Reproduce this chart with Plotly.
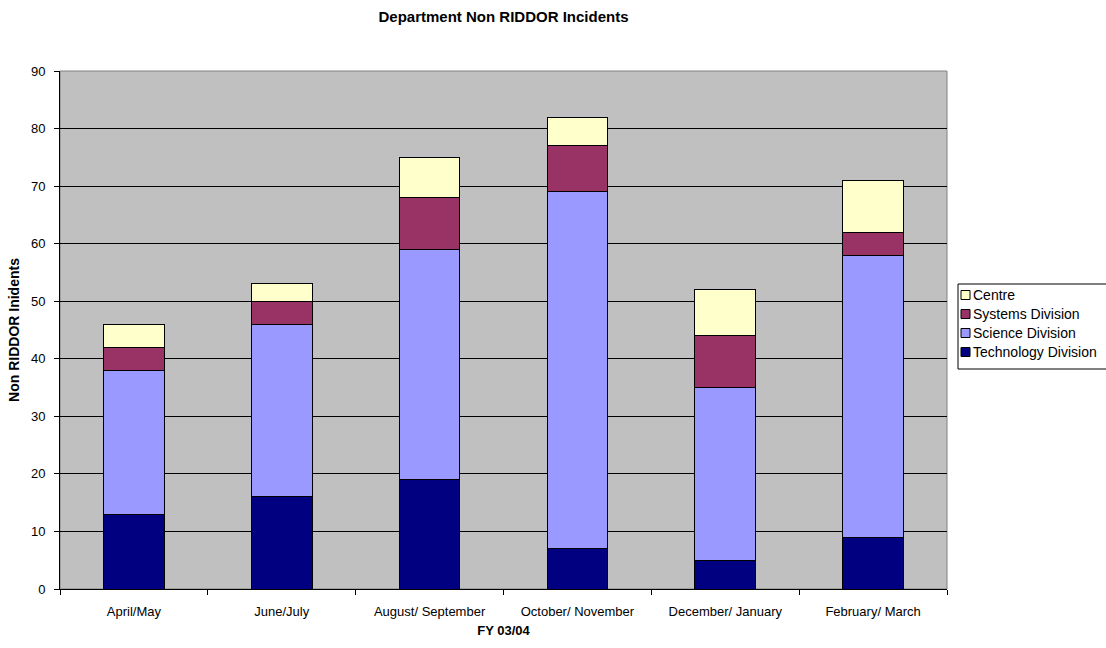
import plotly.graph_objects as go

periods = ["April/May", "June/July", "August/ September", "October/ November",
           "December/ January", "February/ March"]
technology = [13, 16, 19, 7, 5, 9]
science = [25, 30, 40, 62, 30, 49]
systems = [4, 4, 9, 8, 9, 4]
centre = [4, 3, 7, 5, 8, 9]

series_names = ["Technology Division", "Science Division", "Systems Division", "Centre"]
series_values = [technology, science, systems, centre]
series_colors = ["#000080", "#9999FF", "#993366", "#FFFFCC"]

W, H = 1106, 648
L, R, T, B = 60, 947, 71, 589  # plot area edges in pixels
font = "Liberation Sans, Arial, sans-serif"


def px_x(px):
    return (px - L) / (R - L)


def px_y(py):
    return (B - py) / (B - T)


fig = go.Figure()
for name, vals, color in zip(series_names, series_values, series_colors):
    fig.add_trace(go.Bar(
        x=periods, y=vals, name=name,
        marker=dict(color=color, line=dict(color="black", width=1)),
    ))

# compact boxed legend on the right, top entry = last series
shapes = [
    dict(type="rect", xref="paper", yref="paper", x0=0, x1=1, y0=0, y1=1,
         line=dict(color="#808080", width=1), layer="below"),
    dict(type="rect", xref="paper", yref="paper",
         x0=px_x(958), x1=px_x(1112), y0=px_y(369), y1=px_y(284),
         line=dict(color="black", width=1), fillcolor="white"),
]
annotations = []
for i, (name, color) in enumerate(zip(reversed(series_names), reversed(series_colors))):
    cy = 295 + 19 * i
    shapes.append(dict(type="rect", xref="paper", yref="paper",
                       x0=px_x(961), x1=px_x(970), y0=px_y(cy + 4.5), y1=px_y(cy - 4.5),
                       line=dict(color="black", width=1), fillcolor=color))
    annotations.append(dict(text=name, xref="paper", yref="paper", x=px_x(971), y=px_y(cy),
                            xanchor="left", yanchor="middle", showarrow=False,
                            font=dict(size=14, family=font, color="black")))

fig.update_layout(
    barmode="stack",
    bargap=0.59,
    width=W, height=H,
    margin=dict(l=L, r=W - R, t=T, b=H - B),
    paper_bgcolor="white",
    plot_bgcolor="#C0C0C0",
    font=dict(family=font, size=13, color="black"),
    title=dict(text="<b>Department Non RIDDOR Incidents</b>", x=(L + R) / 2 / W, xanchor="center",
               y=0.974, yanchor="middle", font=dict(size=15)),
    showlegend=False,
    shapes=shapes,
    annotations=annotations,
)
fig.update_xaxes(
    title=dict(text="<b>FY 03/04</b>", standoff=8, font=dict(size=13)),
    showline=True, linecolor="black", linewidth=1,
    ticks="outside", tickson="boundaries", ticklen=5, tickcolor="black",
    ticklabelstandoff=10,
    showgrid=False,
)
fig.update_yaxes(
    title=dict(text="<b>Non RIDDOR Inidents</b>", standoff=8, font=dict(size=14)),
    range=[0, 90], dtick=10,
    showline=True, linecolor="black", linewidth=1,
    ticks="outside", ticklen=5, tickcolor="black",
    ticklabelstandoff=6,
    showgrid=True, gridcolor="black", gridwidth=1,
    zeroline=False,
)

fig.write_html("out.html")
